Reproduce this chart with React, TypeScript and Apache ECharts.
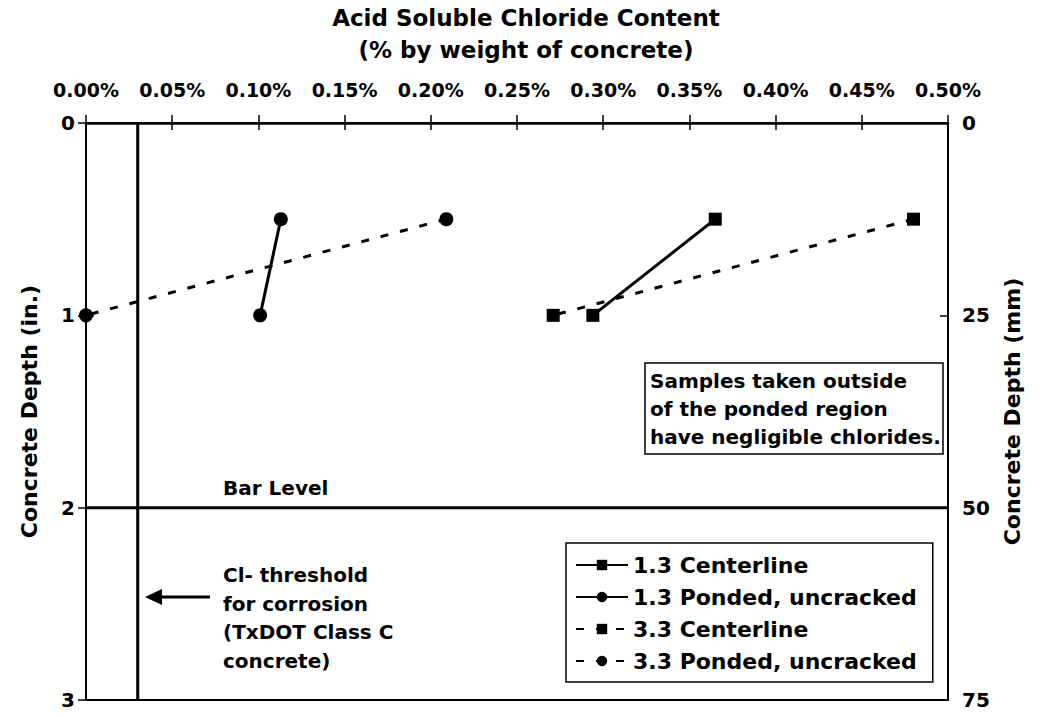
import React, { useEffect, useRef } from "react";
import * as echarts from "echarts";

// ---- data ----
const depthIn = [0.5, 1.0]; // concrete depth, inches
const centerline13 = [0.365, 0.294]; // % chloride
const ponded13 = [0.113, 0.101];
const centerline33 = [0.48, 0.271];
const ponded33 = [0.209, 0.0];
const seriesNames = [
  "1.3 Centerline",
  "1.3 Ponded, uncracked",
  "3.3 Centerline",
  "3.3 Ponded, uncracked",
];
const barLevelDepthIn = 2;
const thresholdPct = 0.03;
const xMin = 0;
const xMax = 0.5;
const xStep = 0.05;
const yMaxIn = 3;
const yStepIn = 1;
const yMaxMm = 75;
const yStepMm = 25;

const FONT = '"DejaVu Sans", sans-serif';

const pairs = (xs: number[]) => xs.map((x, i) => [x, depthIn[i]]);

function dataSeries(name: string, xs: number[], symbol: string, size: number, dashed: boolean) {
  return {
    name,
    type: "line",
    data: pairs(xs),
    symbol,
    symbolSize: size,
    clip: false,
    z: 5,
    lineStyle: { color: "#000", width: 3, type: dashed ? [8, 12] : "solid" },
    itemStyle: { color: "#000" },
  };
}

export default function App() {
  const ref = useRef<HTMLDivElement>(null);
  useEffect(() => {
    document.body.style.margin = "0";
    if (!ref.current) return;
    const chart = echarts.init(ref.current, undefined, { renderer: "svg" });
    const labelStyle = { color: "#000", fontSize: 19, fontWeight: "bold", fontFamily: FONT };
    const axisLine = { show: true, lineStyle: { color: "#000", width: 2 } };
    const option: any = {
      animation: false,
      backgroundColor: "#fff",
      grid: {
        left: 86,
        top: 123,
        width: 862,
        height: 577,
        show: true,
        borderColor: "#000",
        borderWidth: 2,
        backgroundColor: "transparent",
      },
      xAxis: [
        {
          type: "value",
          position: "top",
          min: xMin,
          max: xMax,
          interval: xStep,
          axisLine: { show: true, lineStyle: { color: "#000", width: 2.5 } },
          axisTick: { show: true, inside: false, length: 8, lineStyle: { color: "#000", width: 1.5 } },
          axisLabel: { ...labelStyle, margin: 24, formatter: (v: number) => v.toFixed(2) + "%" },
          splitLine: { show: false },
        },
        {
          type: "value",
          position: "top",
          min: xMin,
          max: xMax,
          interval: xStep,
          axisLine: { show: false },
          axisTick: { show: true, inside: true, length: 7, lineStyle: { color: "#000", width: 1.5 } },
          axisLabel: { show: false },
          splitLine: { show: false },
        },
      ],
      yAxis: [
        {
          type: "value",
          position: "left",
          inverse: true,
          min: 0,
          max: yMaxIn,
          interval: yStepIn,
          axisLine,
          axisTick: { show: true, inside: false, length: 8, lineStyle: { color: "#000", width: 1.5 } },
          axisLabel: { ...labelStyle, fontSize: 20, margin: 11 },
          splitLine: { show: false },
          name: "Concrete Depth (in.)",
          nameLocation: "middle",
          nameRotate: 90,
          nameGap: 46,
          nameTextStyle: { color: "#000", fontSize: 22, fontWeight: "bold", fontFamily: FONT },
        },
        {
          type: "value",
          position: "right",
          inverse: true,
          min: 0,
          max: yMaxMm,
          interval: yStepMm,
          axisLine,
          axisTick: { show: true, inside: false, length: 8, lineStyle: { color: "#000", width: 1.5 } },
          axisLabel: { ...labelStyle, fontSize: 20, margin: 14 },
          splitLine: { show: false },
          name: "Concrete Depth (mm)",
          nameLocation: "middle",
          nameRotate: 90,
          nameGap: 53,
          nameTextStyle: { color: "#000", fontSize: 22, fontWeight: "bold", fontFamily: FONT },
        },
        {
          type: "value",
          position: "right",
          inverse: true,
          min: 0,
          max: yMaxMm,
          interval: yStepMm,
          axisLine: { show: false },
          axisTick: { show: true, inside: true, length: 8, lineStyle: { color: "#000", width: 1.5 } },
          axisLabel: { show: false },
          splitLine: { show: false },
        },
      ],
      legend: {
        data: seriesNames,
        orient: "vertical",
        left: 566,
        top: 543,
        padding: [11, 16, 10, 9],
        itemGap: 10,
        itemWidth: 52,
        itemHeight: 13,
        borderColor: "#000",
        borderWidth: 1.5,
        backgroundColor: "#fff",
        textStyle: { color: "#000", fontSize: 22, fontWeight: "bold", fontFamily: FONT },
      },
      series: [
        {
          name: "Bar Level",
          type: "line",
          data: [
            [xMin, barLevelDepthIn],
            [xMax, barLevelDepthIn],
          ],
          symbol: "none",
          silent: true,
          lineStyle: { color: "#000", width: 3 },
        },
        {
          name: "Cl- threshold",
          type: "line",
          data: [
            [thresholdPct, 0],
            [thresholdPct, yMaxIn],
          ],
          symbol: "none",
          silent: true,
          lineStyle: { color: "#000", width: 3 },
        },
        dataSeries(seriesNames[0], centerline13, "rect", 13, false),
        dataSeries(seriesNames[1], ponded13, "circle", 14, false),
        dataSeries(seriesNames[2], centerline33, "rect", 13, true),
        dataSeries(seriesNames[3], ponded33, "circle", 14, true),
      ],
      graphic: [
        {
          type: "text",
          x: 526,
          y: 18,
          style: {
            text: "Acid Soluble Chloride Content",
            fill: "#000",
            fontSize: 23,
            fontWeight: "bold",
            fontFamily: FONT,
            align: "center",
            verticalAlign: "middle",
            textAlign: "center",
            textVerticalAlign: "middle",
          },
        },
        {
          type: "text",
          x: 526,
          y: 50,
          style: {
            text: "(% by weight of concrete)",
            fill: "#000",
            fontSize: 23,
            fontWeight: "bold",
            fontFamily: FONT,
            align: "center",
            verticalAlign: "middle",
            textAlign: "center",
            textVerticalAlign: "middle",
          },
        },
        {
          type: "text",
          x: 223,
          y: 488,
          style: {
            text: "Bar Level",
            fill: "#000",
            fontSize: 20,
            fontWeight: "bold",
            fontFamily: FONT,
            verticalAlign: "middle",
            textVerticalAlign: "middle",
          },
        },
        {
          type: "text",
          x: 223,
          y: 561,
          style: {
            text: "Cl- threshold\nfor corrosion\n(TxDOT Class C\nconcrete)",
            fill: "#000",
            fontSize: 20,
            fontWeight: "bold",
            fontFamily: FONT,
            lineHeight: 28.5,
          },
        },
        {
          type: "line",
          shape: { x1: 158, y1: 597, x2: 210, y2: 597 },
          style: { stroke: "#000", lineWidth: 3 },
        },
        {
          type: "polygon",
          shape: { points: [[145, 597], [162, 589], [162, 605]] },
          style: { fill: "#000" },
        },
        {
          type: "rect",
          shape: { x: 645, y: 363, width: 298, height: 91 },
          style: { fill: "#fff", stroke: "#000", lineWidth: 1.5 },
          z: 10,
        },
        {
          type: "text",
          x: 650,
          y: 367,
          z: 11,
          style: {
            text: "Samples taken outside\nof the ponded region\nhave negligible chlorides.",
            fill: "#000",
            fontSize: 20,
            fontWeight: "bold",
            fontFamily: FONT,
            lineHeight: 28,
          },
        },
      ],
    };
    chart.setOption(option);
    return () => chart.dispose();
  }, []);
  return <div ref={ref} style={{ width: 1039, height: 716 }} />;
}
